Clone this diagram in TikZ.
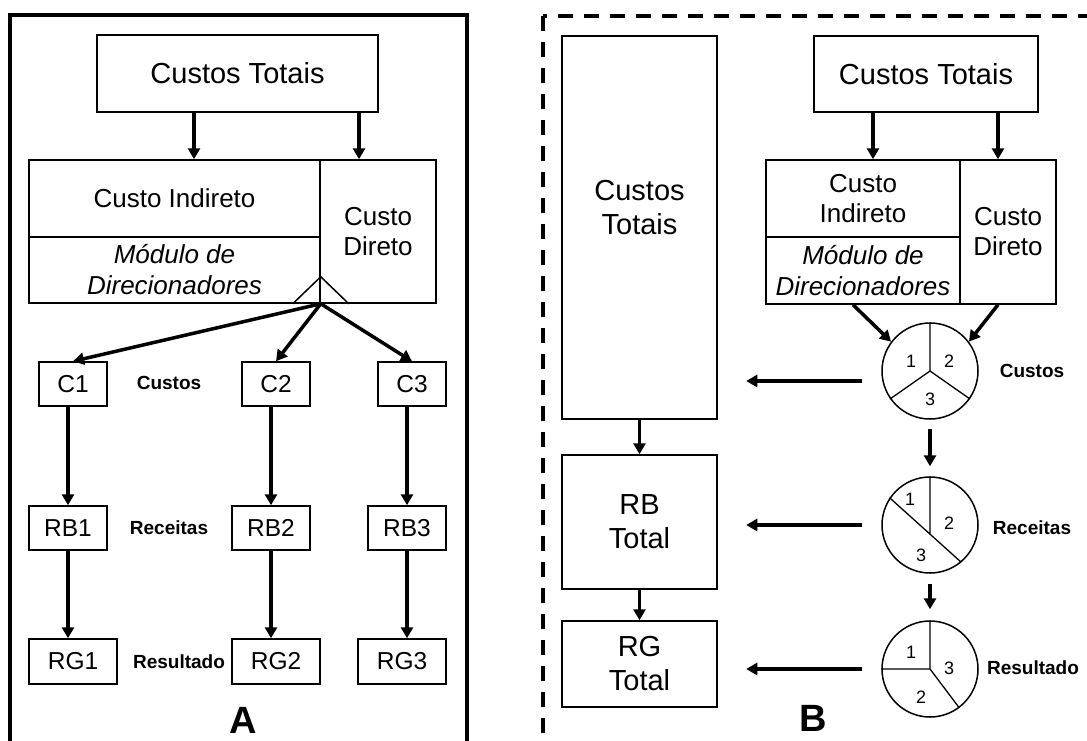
\documentclass[tikz,border=0pt]{standalone}
\usepackage{fontspec}
\setmainfont{Liberation Sans}
\usetikzlibrary{arrows.meta}

\begin{document}
\begin{tikzpicture}[x=1pt,y=-1pt,
    box/.style={draw,line width=1.5pt,inner sep=0pt,align=center},
    big/.style={font=\fontsize{29}{34}\selectfont},
    mid/.style={font=\fontsize{26}{30}\selectfont},
    midit/.style={font=\fontsize{26}{31}\selectfont\itshape},
    small/.style={font=\fontsize{24.5}{28}\selectfont},
    tag/.style={font=\bfseries\fontsize{19}{22}\selectfont},
    letter/.style={font=\bfseries\fontsize{38}{40}\selectfont},
    digit/.style={font=\fontsize{18}{20}\selectfont,inner sep=0pt},
    pie/.style={draw,circle,line width=1.5pt,minimum size=96pt,inner sep=0pt},
    arr/.style={line width=3.5pt,-{Triangle[length=11pt,width=12pt]}}]
                \useasboundingbox(0,0)rectangle(1087,740);
                \clip(0,0)rectangle(1087,740);
                % A
                \draw[line width=4pt](10,15)rectangle(467,780);
                \node[box,big,minimum width=281pt,minimum height=77pt](tot1)at(237.5,73.5){Custos Totais};
                \node[box,mid,minimum width=291pt,minimum height=77pt](ind1)at(174.5,198.5){Custo Indireto};
                \node[box,midit,minimum width=291pt,minimum height=66pt](mod1)at(174.5,270){Módulo de\\Direcionadores};
                \node[box,mid,minimum width=116pt,minimum height=143pt](dir1)at(378,231.5){Custo\\Direto};
                \coordinate(tip)at(mod1.south east);
                \draw[line width=1.5pt](tip)++(-28,0)--++(28,-27)--++(28,27);
                \draw[arr]([shift={(-43.5,0)}]tot1.south)--([shift={(19.5,0)}]ind1.north);
                \draw[arr]([shift={(121.5,0)}]tot1.south)--([shift={(-19,0)}]dir1.north);
                \foreach \i/\cx/\bx/\gx in {1/73/68/73,2/276/271/276,3/412/407/402}{
                    \node[box,small,minimum width=68pt,minimum height=44pt](c\i)at(\cx,384){C\i};
                    \node[box,small,minimum width=78pt,minimum height=44pt](rb\i)at(\bx,528){RB\i};
                    \node[box,small,minimum width=88pt,minimum height=45pt](rg\i)at(\gx,661.5){RG\i};
                    \draw[arr](tip)--(c\i.north);
                    \draw[arr](rb\i.north|-c\i.south)--(rb\i.north);
                    \draw[arr](rb\i.south)--(rb\i.south|-rg\i.north);
                }
                \node[tag](lcus)at(169,383){Custos};
                \node[tag](lrec)at(169,528){Receitas};
                \node[tag](lres)at(179,662){Resultado};
                \node[letter](la)at(243,720){A};
                % B
                \draw[line width=4pt,dash pattern=on 15pt off 11pt](543,16)rectangle(1120,780);
                \node[box,minimum width=155pt,minimum height=383pt,
                    label={[big,align=center,yshift=20pt]center:Custos\\Totais}](tt)at(639.5,227.5){};
                \node[box,big,minimum width=155pt,minimum height=134pt](rb)at(639.5,522){RB\\Total};
                \node[box,big,minimum width=155pt,minimum height=86pt](rg)at(639.5,664){RG\\Total};
                \node[box,big,minimum width=224pt,minimum height=76pt](tot2)at(926,74){Custos Totais};
                \node[box,mid,minimum width=194pt,minimum height=77pt](ind2)at(863,198.5){Custo\\Indireto};
                \node[box,midit,minimum width=194pt,minimum height=67pt](mod2)at(863,270.5){Módulo de\\Direcionadores};
                \node[box,mid,minimum width=96pt,minimum height=144pt](dir2)at(1008,232){Custo\\Direto};
                \node[pie](p1)at(930,371){};
                \node[pie](p2)at(930,525){};
                \node[pie](p3)at(930,669){};
                \draw[line width=1.3pt](p1.center)--(p1.90)(p1.center)--(p1.215)(p1.center)--(p1.325);
                \draw[line width=1.3pt](p2.90)--([shift={(0,9)}]p2.center)(p2.146)--(p2.310);
                \draw[line width=1.3pt](p3.center)--(p3.90)(p3.center)--(p3.180)(p3.center)--(p3.307);
                \foreach \p/\n/\dx/\dy in {p1/1/-19/-10,p1/2/19/-10,p1/3/0/28,
                    p2/1/-20/-26,p2/2/19/-2,p2/3/-9/30,p3/1/-19/-17,p3/3/19/-1,p3/2/-9/28}
                    \node[digit](\p n\n)at([shift={(\dx,\dy)}]\p.center){\n};
                \draw[arr]([shift={(10,0)}]ind2.north|-tot2.south)--([shift={(10,0)}]ind2.north);
                \draw[arr]([shift={(-10,0)}]dir2.north|-tot2.south)--([shift={(-10,0)}]dir2.north);
                \draw[arr]([shift={(-10,0)}]mod2.south)--(p1.143);
                \draw[arr]([shift={(-10,0)}]dir2.south)--(p1.37);
                \draw[arr]([shift={(0,9)}]p1.south)--([shift={(0,-10)}]p2.north);
                \draw[arr]([shift={(0,10)}]p2.south)--([shift={(0,-11)}]p3.north);
                \draw[arr](tt.south)--(rb.north);
                \draw[arr](rb.south)--(rg.north);
                \draw[arr]([shift={(-19,10)}]p1.west)--([shift={(-135,10)}]p1.west);
                \draw[arr]([shift={(-19,0)}]p2.west)--([shift={(-135,0)}]p2.west);
                \draw[arr]([shift={(-19,0)}]p3.west)--([shift={(-135,0)}]p3.west);
                \node[tag](rcus)at(1032,371){Custos};
                \node[tag](rrec)at(1032,528){Receitas};
                \node[tag](rres)at(1033,668){Resultado};
                \node[letter](lb)at(813,718){B};
\end{tikzpicture}
\end{document}
